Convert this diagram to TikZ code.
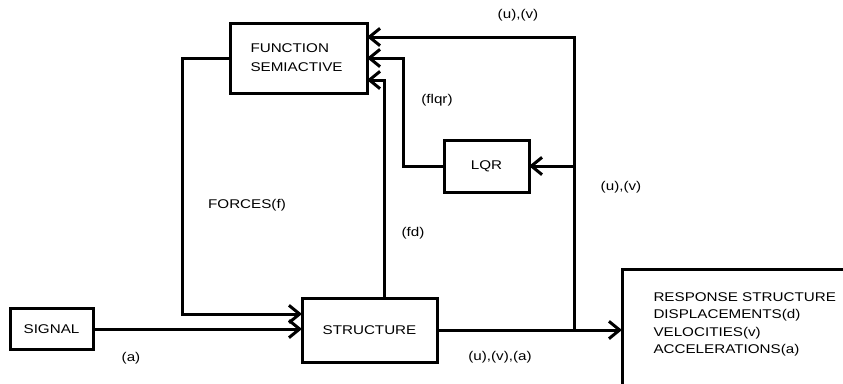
\documentclass[tikz,border=0pt]{standalone}
\usepackage{fontspec}
\setmainfont{Liberation Sans}[FakeStretch=1.2]
\usetikzlibrary{arrows.meta,calc}
\begin{document}
\begin{tikzpicture}[x=0.75pt,y=-0.75pt,
  line width=2.25pt,
  >={Straight Barb[length=8pt,width=13pt]},
  every node/.style={font=\fontsize{9.5}{14}\selectfont},
  blk/.style={draw,rectangle,inner sep=0pt,outer sep=0pt},
  lbl/.style={inner sep=0pt}]
\useasboundingbox (0,0) rectangle (843,383);
\clip (0,0) rectangle (843,383);
% blocks
\node[blk,minimum width={137*0.75pt},minimum height={70*0.75pt}] (func) at (298.5,58) {};
\node[lbl,anchor=west,align=left,font=\fontsize{9.5}{14.25}\selectfont] (functext) at (249,58) {FUNCTION\\SEMIACTIVE};
\node[blk,minimum width={85*0.75pt},minimum height={52*0.75pt}] (lqr) at (486.5,166) {LQR};
\node[blk,minimum width={83*0.75pt},minimum height={41*0.75pt}] (signal) at (51.5,329) {SIGNAL};
\node[blk,minimum width={135*0.75pt},minimum height={64*0.75pt}] (struct) at (369.5,330) {STRUCTURE};
\node[blk,anchor=north west,minimum width={300*0.75pt},minimum height={160*0.75pt}] (resp) at (622,269) {};
\node[lbl,anchor=north west,align=left,font=\fontsize{9.5}{13.1}\selectfont] (resptext) at (652,291)
  {RESPONSE STRUCTURE\\DISPLACEMENTS(d)\\VELOCITIES(v)\\ACCELERATIONS(a)};
% junction
\coordinate (j) at (574,330);
% connectors
\draw[->] (signal.east) -- (signal.east -| struct.west);
\draw[->] (func.west) -- ++(-48,0) |- ($(struct.west)+(0,-16)$);
\draw[->] (struct.east) -- (struct.east -| resp.west);
\draw[->] (j) |- ($(func.east)+(0,-21)$);
\draw[->] (j |- lqr.east) -- (lqr.east);
\draw[->] (lqr.west) -- ++(-41,0) |- (func.east);
\draw[->] ($(struct.north west)+(82,0)$) |- ($(func.east)+(0,22)$);
% labels
\node[lbl] (l1) at (518,15) {(u),(v)};
\node[lbl] (l2) at (437,100) {(flqr)};
\node[lbl] (l3) at (621,187) {(u),(v)};
\node[lbl] (l4) at (247,205) {FORCES(f)};
\node[lbl] (l5) at (413,233) {(fd)};
\node[lbl] (l6) at (131,358) {(a)};
\node[lbl] (l7) at (500,357) {(u),(v),(a)};
\end{tikzpicture}
\end{document}
